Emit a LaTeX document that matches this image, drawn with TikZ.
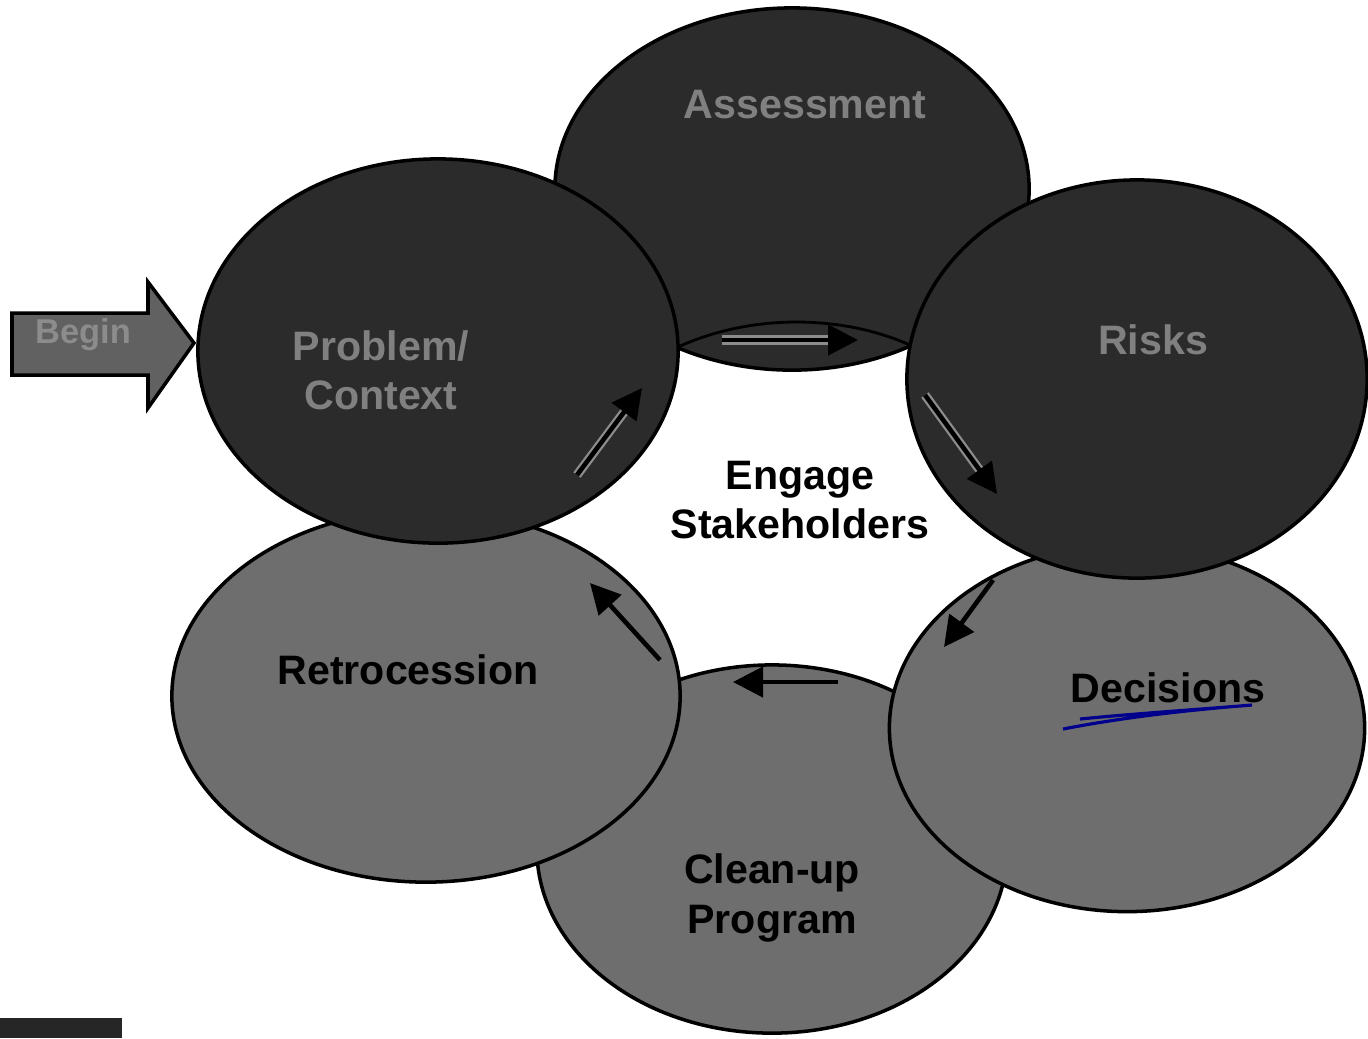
\documentclass[tikz,border=0pt]{standalone}
\usepackage{fontspec}
\setmainfont{Liberation Sans}
\usetikzlibrary{shapes.geometric,arrows.meta}
\begin{document}
\begin{tikzpicture}[x=0.01cm,y=-0.01cm,
  bub/.style={ellipse,draw=black,line width=1pt,inner sep=0pt},
  dark/.style={bub,fill=black!83},
  light/.style={bub,fill=black!57},
  lbl/.style={font=\fontsize{11.7}{14}\selectfont\bfseries,align=center},
  dlbl/.style={lbl,text=black!50},
  flow/.style={line width=1.3pt,-{Triangle[length=0.3cm,width=0.3cm]}},
  halo/.style={flow,preaction={draw=black!45,line width=2.6pt,-,shorten >=0.26cm}}]
\useasboundingbox (0,0) rectangle (1368,1038);
% bubbles, back to front
\node[dark,minimum width=4.74cm,minimum height=3.62cm] (assess) at (792,189) {};
\node[light,minimum width=4.7cm,minimum height=3.68cm] (clean) at (772,849) {};
\node[light,minimum width=5.08cm,minimum height=3.72cm] (retro) at (426,696) {};
\node[light,minimum width=4.75cm,minimum height=3.67cm] (dec) at (1127,728) {};
\node[dark,minimum width=4.8cm,minimum height=3.84cm] (prob) at (438,351) {};
\node[dark,minimum width=4.6cm,minimum height=3.98cm] (risks) at (1137,379) {};
\draw[line width=0.8pt] (678,347) .. controls (750,314) and (840,314) .. (910,345);
% labels
\node[dlbl] (assesstxt) at (805,105) {Assessment};
\node[dlbl] (probtxt) at (381,370) {Problem/\\Context};
\node[dlbl] (riskstxt) at (1153,340) {Risks};
\node[lbl] (engage) at (800,500) {Engage\\Stakeholders};
\node[lbl] (retrotxt) at (408,670) {Retrocession};
\node[lbl] (dectxt) at (1168,688) {Decisions};
\node[lbl] (cleantxt) at (772,898) {Clean-up\\Program};
\draw[blue!55!black,line width=0.9pt] (1063,729) .. controls (1130,716) and (1200,709) .. (1252,705)
  .. controls (1190,710) and (1130,714) .. (1080,719);
% begin arrow
\fill[black!62,draw=black,line width=1pt] (12,313) -- (148,313) -- (148,282) -- (194,343)
  -- (148,408) -- (148,375) -- (12,375) -- cycle;
\node[lbl,font=\fontsize{9.8}{12}\selectfont\bfseries,text=black!45] (begin) at (83,335) {Begin};
% cycle arrows
\coordinate (p1) at (722,340); \coordinate (p2) at (858,340);
\coordinate (r1) at (925,395); \coordinate (r2) at (997,494);
\coordinate (d1) at (993,580); \coordinate (d2) at (944,647);
\coordinate (c1) at (838,682); \coordinate (c2) at (733,682);
\coordinate (t1) at (660,660); \coordinate (t2) at (590,583);
\coordinate (q1) at (577,475); \coordinate (q2) at (642,388);
\draw[halo] (p1) -- (p2);
\draw[halo] (r1) -- (r2);
\draw[flow] (d1) -- (d2);
\draw[flow] (c1) -- (c2);
\draw[flow] (t1) -- (t2);
\draw[halo] (q1) -- (q2);
\fill[black!85] (0,1018) rectangle (122,1038);
\end{tikzpicture}
\end{document}
